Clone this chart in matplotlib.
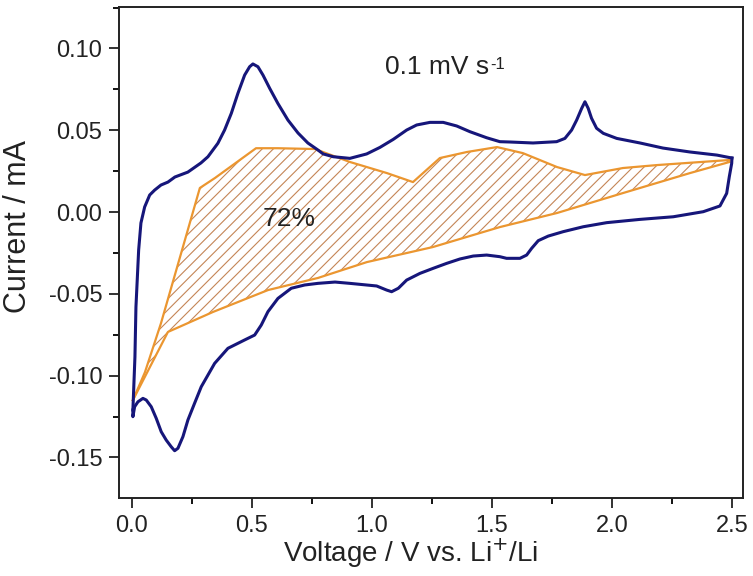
import matplotlib
matplotlib.use("Agg")
import matplotlib.pyplot as plt
from matplotlib.ticker import MultipleLocator
from matplotlib.patches import Polygon
import numpy as np

plt.rcParams['font.family'] = ['Liberation Sans', 'DejaVu Sans']
plt.rcParams['hatch.linewidth'] = 0.8

# Anodic branch (0 -> 2.5 V)
anodic_v = [0.004, 0.0125, 0.0167, 0.028, 0.0375, 0.053, 0.074, 0.0946, 0.121, 0.15, 0.179,
            0.233, 0.2875, 0.3167, 0.358, 0.386, 0.414, 0.4417, 0.4696, 0.4904, 0.504, 0.525,
            0.546, 0.574, 0.608, 0.65, 0.692, 0.733, 0.775, 0.797, 0.8388, 0.908, 0.978,
            1.0333, 1.0888, 1.1446, 1.1863, 1.2417, 1.297, 1.353, 1.4083, 1.478, 1.533, 1.575,
            1.671, 1.7696, 1.804, 1.832, 1.853, 1.874, 1.8875, 1.901, 1.915, 1.936, 1.964,
            2.02, 2.117, 2.2125, 2.325, 2.4375, 2.5]
anodic_i = [-0.121, -0.0886, -0.0581, -0.0232, -0.0067, 0.0031, 0.0104, 0.0134, 0.0165, 0.0183,
            0.0214, 0.0244, 0.030, 0.0338, 0.042, 0.0501, 0.0603, 0.0726, 0.0837, 0.0888,
            0.0905, 0.0888, 0.0837, 0.0756, 0.0664, 0.0562, 0.0483, 0.0422, 0.0379, 0.0355,
            0.0338, 0.0328, 0.0355, 0.0395, 0.0444, 0.0501, 0.0532, 0.0548, 0.0548, 0.0526,
            0.0491, 0.0454, 0.043, 0.0428, 0.0422, 0.043, 0.045, 0.0501, 0.0562, 0.0634,
            0.0674, 0.0634, 0.0573, 0.0512, 0.0481, 0.045, 0.0422, 0.0391, 0.0367, 0.0348, 0.033]

# Cathodic branch (2.5 -> 0 V)
cathodic_v = [2.5, 2.499, 2.489, 2.478, 2.45, 2.3804, 2.2554, 2.1167, 1.978, 1.8804, 1.797,
              1.7346, 1.693, 1.6654, 1.6446, 1.6167, 1.561, 1.533, 1.478, 1.422, 1.3667,
              1.311, 1.2554, 1.2, 1.1446, 1.11, 1.082, 1.0613, 1.0196, 0.908, 0.846, 0.775,
              0.7196, 0.6638, 0.6083, 0.5667, 0.5388, 0.5113, 0.4696, 0.4, 0.3446, 0.2888,
              0.261, 0.2333, 0.2125, 0.1917, 0.178, 0.1638, 0.1429, 0.1221, 0.1013, 0.0804,
              0.0596, 0.0458, 0.025, 0.0113, 0.004, 0.004]
cathodic_i = [0.033, 0.0298, 0.0216, 0.0114, 0.0037, 0.0002, -0.0029, -0.0045, -0.0065, -0.009,
              -0.012, -0.0147, -0.0175, -0.0222, -0.0263, -0.0283, -0.0283, -0.0273, -0.0263,
              -0.0269, -0.0287, -0.0314, -0.0344, -0.0375, -0.0416, -0.0466, -0.0487, -0.0477,
              -0.0452, -0.0436, -0.0428, -0.0436, -0.0446, -0.0466, -0.0528, -0.0609, -0.0691,
              -0.0752, -0.0782, -0.0833, -0.0925, -0.1068, -0.1169, -0.1271, -0.1373, -0.1444,
              -0.1459, -0.1435, -0.1394, -0.1343, -0.1261, -0.119, -0.1149, -0.1139, -0.116,
              -0.119, -0.1251, -0.121]

# Capacitive-contribution region (72%)
cap_upper_v = [0.004, 0.054, 0.121, 0.221, 0.283, 0.346, 0.517, 0.608, 0.7625, 0.908, 1.0625,
               1.171, 1.283, 1.396, 1.521, 1.629, 1.771, 1.8875, 2.046, 2.1875, 2.49]
cap_upper_i = [-0.115, -0.098, -0.068, -0.017, 0.0147, 0.0208, 0.039, 0.039, 0.0385, 0.0306,
               0.0238, 0.0183, 0.033, 0.0367, 0.0397, 0.036, 0.0275, 0.0226, 0.0269, 0.0287, 0.0318]
cap_lower_v = [0.004, 0.15, 0.3375, 0.567, 0.775, 0.979, 1.254, 1.533, 1.771, 2.046, 2.325, 2.49]
cap_lower_i = [-0.115, -0.0733, -0.0611, -0.0477, -0.0403, -0.0306, -0.0214, -0.0092, -0.0006,
               0.0116, 0.0238, 0.0306]

x_ticks = [0.0, 0.5, 1.0, 1.5, 2.0, 2.5]
x_ticklabels = ['0.0', '0.5', '1.0', '1.5', '2.0', '2.5']
y_ticks = [-0.15, -0.10, -0.05, 0.0, 0.05, 0.10]
y_ticklabels = ['-0.15', '-0.10', '-0.05', '0.00', '0.05', '0.10']

fig = plt.figure(figsize=(7.53, 5.76), dpi=100)
ax = fig.add_axes([0.158, 0.1354, 0.8287, 0.8524])

navy = '#16167a'
orange = '#eb9630'

poly_v = cap_upper_v + cap_lower_v[::-1]
poly_i = cap_upper_i + cap_lower_i[::-1]
ax.add_patch(Polygon(np.column_stack([poly_v, poly_i]), closed=True, facecolor='none',
                     edgecolor='#c48556', hatch='///', linewidth=0, zorder=1))
ax.plot(cap_upper_v, cap_upper_i, color=orange, lw=1.6, zorder=2)
ax.plot(cap_lower_v, cap_lower_i, color=orange, lw=1.6, zorder=2)

ax.plot(anodic_v, anodic_i, color=navy, lw=2.2, zorder=3, solid_joinstyle='round')
ax.plot(cathodic_v, cathodic_i, color=navy, lw=2.2, zorder=3, solid_joinstyle='round')

ax.set_xlim(-0.054, 2.546)
ax.set_ylim(-0.1748, 0.1253)
ax.set_xticks(x_ticks)
ax.set_xticklabels(x_ticklabels)
ax.set_yticks(y_ticks)
ax.set_yticklabels(y_ticklabels)
ax.xaxis.set_minor_locator(MultipleLocator(0.25))
ax.yaxis.set_minor_locator(MultipleLocator(0.025))

ax.tick_params(axis='both', which='major', direction='out', length=7, width=1.3,
               labelsize=17, colors='#222222', pad=5)
ax.tick_params(axis='both', which='minor', direction='out', length=4, width=1.3)
ax.tick_params(top=False, right=False, which='both')
for s in ax.spines.values():
    s.set_linewidth(1.4)
    s.set_color('#222222')

ax.set_xlabel('Voltage / V vs. Li$^{+}$/Li', fontsize=20, color='#222222')
ax.xaxis.set_label_coords(0.468, -0.077)
ax.set_ylabel('Current / mA', fontsize=22, color='#222222')
ax.yaxis.set_label_coords(-0.138, 0.552)

t = ax.text(1.27, 0.0885, '0.1 mV s', fontsize=19, color='#222222', ha='center', va='center')
ax.annotate('-1', xy=(1.0, 1.0), xycoords=t, xytext=(1, -1), textcoords='offset points',
            fontsize=12, color='#222222', ha='left', va='top')
ax.text(0.654, -0.004, '72%', fontsize=19, color='#222222', ha='center', va='center')

fig.savefig('out.png', dpi=100)
